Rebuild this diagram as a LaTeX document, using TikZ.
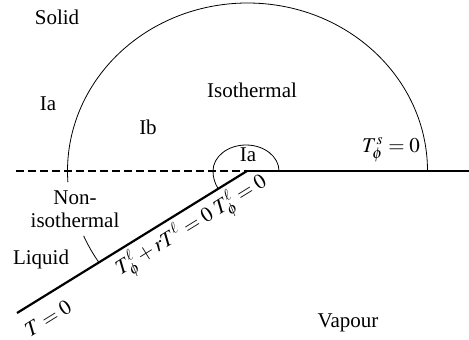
\documentclass[tikz,border=0pt]{standalone}
\usepackage{mathptmx}
\usepackage{fontspec}
\setmainfont{Liberation Serif}
\usetikzlibrary{calc}
\begin{document}
\begin{tikzpicture}[x=0.5pt,y=0.5pt,
  lbl/.style={inner sep=0pt,font=\fontsize{10.5}{11.5}\selectfont},
  mlbl/.style={inner sep=0pt,font=\fontsize{10.5}{11.5}\selectfont,rotate=31.7},
  thin arc/.style={line width=0.4pt},
  base/.style={line width=0.7pt},
  slant/.style={line width=1.1pt},
  dashline/.style={line width=0.7pt,dash pattern=on 4pt off 2pt}]
\useasboundingbox (0,0) rectangle (469,339);
% key points
\coordinate (C) at (247,168);
\coordinate (R) at (469,168);
\coordinate (L) at (16,168);
\coordinate (S) at (17,26);
% lines
\draw[base] (C) -- (R);
\draw[dashline] (L) -- (C);
\draw[slant] (S) -- (C);
% big arc
\draw[thin arc] (427.5,168) arc[start angle=0,end angle=183.8,x radius=180,y radius=168];
\draw[thin arc] ($(247.5,168)+(203:178 and 166)$) arc[start angle=203,end angle=213.5,x radius=178,y radius=166];
% small arc
\draw[thin arc] (279,168) arc[start angle=0,end angle=180,x radius=33,y radius=26]
  arc[start angle=180,end angle=212,radius=33];
% labels
\node[lbl] (solid) at (57,322) {Solid};
\node[lbl] (ia1) at (48,235) {Ia};
\node[lbl] (ib) at (148,212) {Ib};
\node[lbl] (iso) at (252,249) {Isothermal};
\node[lbl] (ia2) at (248,184) {Ia};
\node[lbl] (ts) at (391,189) {$T^{s}_{\phi}=0$};
\node[lbl,align=center] (noniso) at (75,130) {Non-\\isothermal};
\node[lbl] (liq) at (41,80) {Liquid};
\node[lbl] (vap) at (348,16) {Vapour};
\node[mlbl] (t0) at (48,21) {$T=0$};
\node[mlbl] (tr) at (165.5,96) {$T^{\ell}_{\phi}+rT^{\ell}=0$};
\node[mlbl] (tl) at (241,142) {$T^{\ell}_{\phi}=0$};
\end{tikzpicture}
\end{document}
